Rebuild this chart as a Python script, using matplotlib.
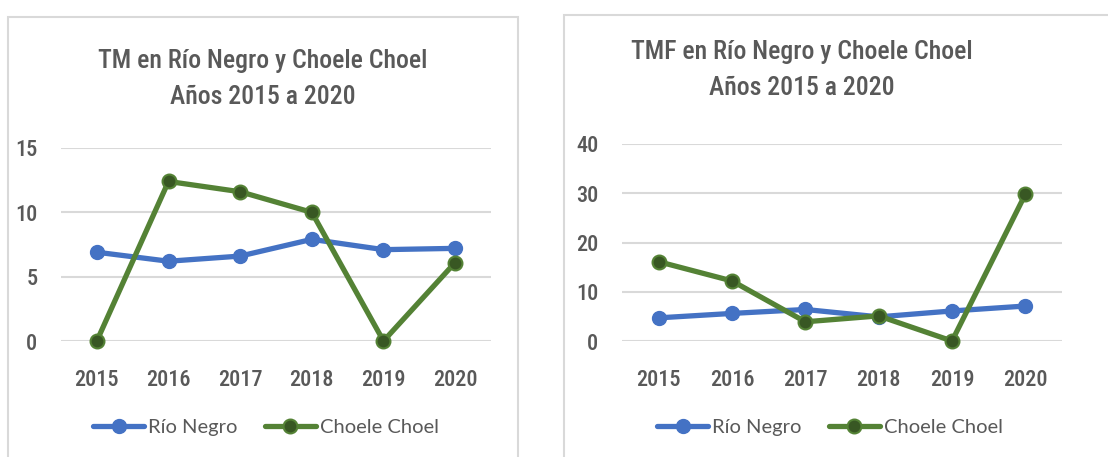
import matplotlib
matplotlib.use("Agg")
import matplotlib.pyplot as plt
from matplotlib import font_manager
from matplotlib.patches import Rectangle

# data
years = ["2015", "2016", "2017", "2018", "2019", "2020"]
tm_rio_negro = [6.9, 6.2, 6.6, 7.9, 7.1, 7.2]
tm_choele = [0.0, 12.4, 11.6, 10.0, 0.0, 6.1]
tmf_rio_negro = [4.7, 5.6, 6.4, 4.9, 6.1, 7.1]
tmf_choele = [16.1, 12.2, 3.9, 5.1, 0.0, 29.8]

titles = ["TM en Río Negro y Choele Choel\nAños 2015 a 2020",
          "TMF en Río Negro y Choele Choel\nAños 2015 a 2020"]
series_names = ["Río Negro", "Choele Choel"]


def pick_font(names):
    for n in names:
        try:
            font_manager.findfont(n, fallback_to_default=False)
            return n
        except Exception:
            pass
    return "DejaVu Sans"


narrow = pick_font(["Liberation Sans Narrow", "Roboto Condensed", "Roboto"])
body = pick_font(["Lato", "Open Sans", "DejaVu Sans"])

BLUE = "#4472C4"
GREEN = "#548235"
GREEN_DARK = "#385723"
GREY_TXT = "#595959"
GRID = "#D9D9D9"

W, H = 1108, 457
fig = plt.figure(figsize=(W / 100, H / 100), dpi=100)


def fx(px):
    return px / W


def fy(py):
    return 1 - py / H


# chart frames
fig.patches.append(Rectangle((fx(8), fy(470)), fx(510), fy(17) - fy(470),
                             transform=fig.transFigure, fill=False,
                             edgecolor=GRID, lw=1.5))
fig.patches.append(Rectangle((fx(564), fy(470)), fx(560), fy(15) - fy(470),
                             transform=fig.transFigure, fill=False,
                             edgecolor=GRID, lw=1.5))

panels = [
    dict(rect=(61, 148, 491, 341), ymax=15, step=5, rn=tm_rio_negro, cc=tm_choele,
         title=titles[0], tx=263, ty=79, leg=(266, 427)),
    dict(rect=(622, 144, 1062, 341), ymax=40, step=10, rn=tmf_rio_negro, cc=tmf_choele,
         title=titles[1], tx=802, ty=70, leg=(830, 427)),
]

x = list(range(len(years)))
for p in panels:
    l, t, r, b = p["rect"]
    ax = fig.add_axes([fx(l), fy(b), fx(r - l), fy(t) - fy(b)])
    ax.plot(x, p["rn"], color=BLUE, lw=3.8, marker="o", ms=10,
            mfc=BLUE, mec=BLUE, label=series_names[0], zorder=3,
            solid_capstyle="round")
    ax.plot(x, p["cc"], color=GREEN, lw=3.8, marker="o", ms=10,
            mfc=GREEN_DARK, mec=GREEN, mew=1.5, label=series_names[1], zorder=4,
            solid_capstyle="round")
    ax.set_xlim(-0.5, len(years) - 0.5)
    ax.set_ylim(0, p["ymax"])
    ax.set_yticks(range(0, p["ymax"] + 1, p["step"]))
    ax.set_xticks(x)
    ax.set_xticklabels(years)
    ax.grid(axis="y", color=GRID, lw=1.5)
    ax.set_axisbelow(True)
    for s in ax.spines.values():
        s.set_visible(False)
    ax.tick_params(length=0, colors=GREY_TXT, labelsize=16, pad=20)
    ax.tick_params(axis="y", pad=17)
    for lab in ax.get_xticklabels() + ax.get_yticklabels():
        lab.set_family(narrow)
        lab.set_weight("medium")
    for ln in ax.lines:
        ln.set_clip_on(False)

    lx, ly = p["leg"]
    ax.legend(loc="center", ncol=2, frameon=False,
              bbox_to_anchor=((lx - l) / (r - l), (b - ly) / (b - t)),
              prop=dict(family=body, size=14.5), labelcolor=GREY_TXT,
              handlelength=2.5, handletextpad=0.2, columnspacing=1.4)

    fig.text(fx(p["tx"]), fy(p["ty"]), p["title"], ha="center", va="center",
             family=narrow, weight="medium", size=18.5, color=GREY_TXT,
             linespacing=1.6)

fig.savefig("out.png", dpi=100)
